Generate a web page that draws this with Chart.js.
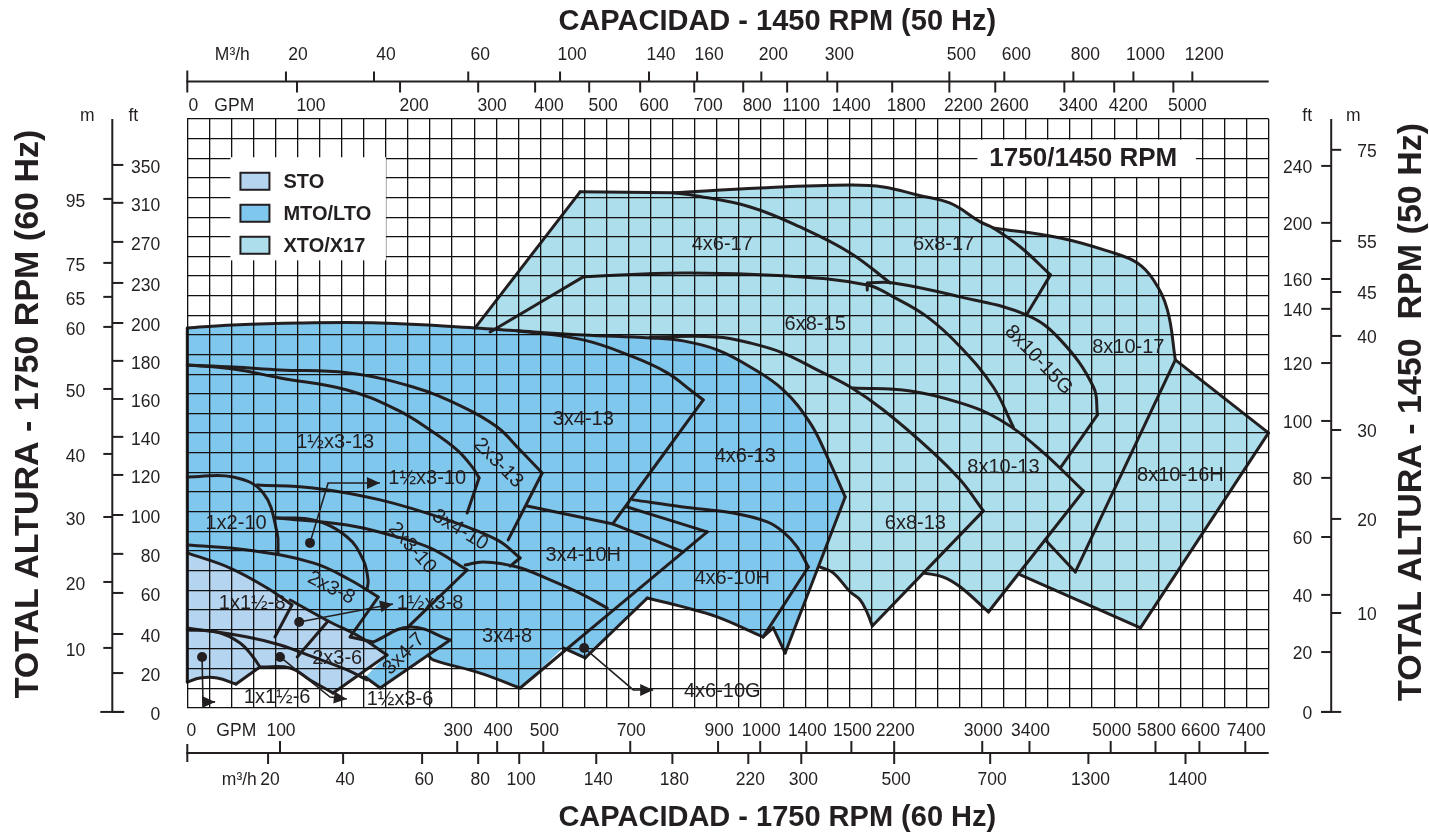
<!DOCTYPE html>
<html>
<head>
<meta charset="utf-8">
<title>Cobertura de bombas 1750/1450 RPM</title>
<script src="https://cdn.jsdelivr.net/npm/chart.js@4.4.1/dist/chart.umd.min.js"></script>
<style>
  html, body { margin: 0; padding: 0; background: #fff; }
  #wrap { position: relative; width: 1429px; height: 836px; }
</style>
</head>
<body>
<div id="wrap"><canvas id="coverageChart"></canvas></div>
<script>
// the plot is a 49 x 30 grid; all shapes below are in grid units
const gridCols = 49, gridRows = 30;

const familyNames  = ['STO', 'MTO/LTO', 'XTO/X17'];
const familyColors = ['#b4d4f0', '#80c7ee', '#acdeeb'];

// filled envelopes, one per family
const xtoArea = [[13.04,19.36],[17.80,26.29],[22.02,26.24],[25.96,26.49],[30.04,26.64],[31.54,26.54],[33.08,26.13],[34.57,25.71],[35.93,24.76],[36.52,24.45],
  [39.56,23.94],[41.83,23.23],[43.05,22.67],[43.78,21.80],[44.41,20.28],[44.77,17.73],[48.99,14.01],[43.19,4.08],[37.75,6.78],[36.30,4.89],
  [35.03,6.16],[34.26,6.67],[33.35,6.88],[31.04,4.18],[30.81,4.84],[30.49,5.50],[30.04,5.91],[29.27,6.88],[28.68,7.18],[27.77,9.58],[23.23,14.67],[14.18,18.85]];
const mtoArea = [[0,19.36],[2.08,19.51],[5.11,19.61],[8.74,19.61],[13.04,19.36],[14.95,19.21],[17.94,19.00],[20.97,18.85],[22.47,18.70],[24.01,18.24],
  [25.51,17.37],[27.00,16.20],[28.22,14.52],[29.00,12.79],[29.81,10.75],[27.09,2.80],[26.55,4.08],[26.09,3.62],[24.01,4.64],[22.47,5.15],
  [20.84,5.60],[18.03,2.55],[17.03,3.06],[15.08,1.02],[13.27,1.78],[11.14,2.45],[10.91,2.70],[8.74,1.02],[8.06,1.58],[9.05,2.70],[6.47,3.46],[0,5.50]];
const stoArea = [[0,7.90],[1.94,7.13],[3.62,6.11],[4.66,5.50],[6.38,4.43],[7.83,3.62],[9.05,2.70],[6.61,0.76],[5.56,1.43],[4.66,2.04],
  [3.38,2.09],[2.21,1.22],[1.35,1.53],[0.58,1.53],[0,1.32]];

// pump curves (XTO/X17)
const eXtoTop    = [[13.04,19.36],[17.80,26.29],[22.02,26.24],[25.96,26.49],[30.04,26.64],[31.54,26.54],[33.08,26.13],[34.57,25.71],[35.93,24.76],[36.52,24.45],[37.75,23.48],[39.11,22.06],[38.02,20.02]];
const e8x10_17   = [[36.52,24.45],[39.56,23.94],[41.83,23.23],[43.05,22.67],[43.78,21.80],[44.41,20.28],[44.77,17.73],[48.99,14.01],[43.19,4.08],[37.75,6.78]];
const e8x10_17b  = [[44.77,17.73],[40.24,6.93],[38.88,8.56]];
const e4x6_17    = [[22.02,26.24],[23.10,26.08],[25.51,25.52],[27.77,24.50],[30.04,23.18],[31.85,21.65]];
const e6x8_15    = [[13.72,19.15],[17.94,21.96],[22.47,22.16],[27.00,22.01],[30.81,21.55],[31.99,20.94],[33.53,19.92],[35.03,18.39],[36.52,16.35],[37.43,14.31]];
const e8x10_15G  = [[30.81,21.29],[30.81,21.65],[31.99,21.65],[35.03,20.94],[38.02,20.02],[39.56,18.75],[41.06,16.35],[41.24,14.93],[39.56,12.23]];
const e8x10_13   = [[30.17,16.30],[32.76,16.15],[35.03,15.54],[36.84,14.67],[38.66,13.14],[40.61,11.05],[36.30,4.89],[35.03,6.16],[34.26,6.67],[33.35,6.88]];
const e6x8_13    = [[20.97,18.90],[24.01,18.90],[25.51,18.59],[27.00,18.08],[28.54,17.22],[30.04,16.35],[31.54,15.18],[33.67,13.14],[35.03,11.61],[36.07,10.04],
  [31.04,4.18],[30.81,4.84],[30.49,5.50],[30.04,5.91],[29.27,6.88],[28.68,7.18]];

// pump curves (MTO/LTO)
const eMtoOuter  = [[0,1.32],[0,19.36],[2.08,19.51],[5.11,19.61],[8.74,19.61],[13.04,19.36],[14.95,19.21],[17.94,19.00],[20.97,18.85],[22.47,18.70],[24.01,18.24],
  [25.51,17.37],[27.00,16.20],[28.22,14.52],[29.00,12.79],[29.81,10.75],[27.09,2.80],[26.55,4.08],[26.09,3.62]];
const e2x3_13    = [[0,17.47],[2.08,17.37],[4.21,17.22],[7.24,17.07],[10.23,16.35],[12.50,15.33],[14.04,14.31],[15.08,13.14],[16.08,11.97],[14.54,8.56]];
const e15x3_13   = [[0,17.47],[2.08,17.27],[4.21,16.81],[7.24,16.20],[9.51,15.18],[11.00,14.16],[12.23,13.14],[12.91,12.28],[13.22,11.72],[12.68,9.93]];
const e3x4_13    = [[14.95,19.21],[17.94,18.75],[20.21,17.88],[21.75,17.07],[22.79,16.20],[23.38,15.69],[19.30,9.42]];
const e4x6_10H   = [[20.21,10.60],[22.47,10.24],[24.73,9.93],[26.28,9.48],[27.00,8.97],[27.64,8.20],[28.14,7.18],[26.09,3.62],[24.01,4.64],[22.47,5.15],[20.84,5.60],[18.03,2.55],[17.03,3.06]];
const e4x6_10G   = [[19.93,10.24],[23.56,8.97],[15.08,1.02]];
const e3x4_10H   = [[15.40,10.29],[19.30,9.37],[22.47,7.95]];
const e3x4_8     = [[12.59,7.28],[13.41,7.44],[14.95,7.18],[16.44,6.52],[17.94,5.76],[19.03,5.09]];
const e3x4_8low  = [[15.08,1.02],[13.27,1.78],[11.14,2.45],[10.91,2.70]];
const e1x2_10    = [[0,11.77],[2.08,11.77],[3.44,10.95],[4.07,8.92],[4.11,7.90]];
const e3x4_10    = [[3.16,11.36],[5.70,11.21],[8.74,10.60],[11.78,9.58],[14.04,8.56],[15.08,7.64],[14.63,7.23]];
const e15x3_10   = [[4.07,9.68],[5.70,9.58],[7.24,8.71],[7.97,7.54],[8.19,6.52],[8.14,6.01]];
const e2x3_10    = [[4.07,9.68],[7.24,9.32],[9.19,8.81],[11.00,8.15],[12.68,7.03],[9.96,4.08]];
const e2x3_8     = [[0,8.30],[2.72,8.05],[5.70,7.39],[7.38,6.52],[8.65,5.65],[7.38,3.62],[8.42,3.36]];
const e3x4_7     = [[8.42,3.36],[10.10,4.13],[11.91,3.46],[8.74,1.02],[8.06,1.58]];

// pump curves (STO)
const e1x15_8    = [[0,7.90],[1.94,7.13],[3.62,6.11],[4.74,5.25],[3.97,3.62]];
const e2x3_6     = [[4.66,5.50],[6.38,4.43],[7.83,3.62],[9.05,2.70],[6.61,0.76],[5.56,1.43],[4.66,2.04],[3.29,2.09]];
const e1x15_6    = [[0,3.97],[1.35,3.87],[2.39,3.31],[2.98,2.60],[3.29,2.09],[2.21,1.22],[1.35,1.53],[0.58,1.53],[0,1.32]];
const e15x3_6    = [[0,4.08],[2.72,3.62],[4.21,3.21],[5.70,2.60],[7.24,1.94],[8.14,1.43]];
const e15x3_8    = [[6.38,4.43],[4.98,2.60]];

// each curve with the indexes of its sharp corners
const outlines = [
  [eXtoTop, [1, 2, 11]], [e8x10_17, [6, 7, 8]], [e8x10_17b, [1]], [e4x6_17, []],
  [e6x8_15, [1]], [e8x10_15G, [1, 7]], [e8x10_13, [5, 6]], [e6x8_13, [9, 10]],
  [eMtoOuter, [1, 15, 16, 17]], [e2x3_13, [8]], [e15x3_13, [8]], [e3x4_13, [5]],
  [e4x6_10H, [6, 7, 10, 11]], [e4x6_10G, [1]], [e3x4_10H, [1]], [e3x4_8, []], [e3x4_8low, []],
  [e1x2_10, []], [e3x4_10, [5]], [e15x3_10, []], [e2x3_10, [4]], [e2x3_8, [4, 5]], [e3x4_7, [2, 3]],
  [e1x15_8, [3]], [e2x3_6, [3, 4]], [e1x15_6, [4, 5]], [e15x3_6, []], [e15x3_8, []]
];

// pump names: text, x, y, angle
const regionLabels = [
  ['4x6-17', 24.24, 23.59, 0], ['6x8-17', 34.27, 23.59, 0], ['6x8-15', 28.45, 19.51, 0],
  ['8x10-15G', 38.57, 17.73, 46], ['8x10-17', 42.64, 18.34, 0], ['3x4-13', 17.94, 14.67, 0],
  ['4x6-13', 25.28, 12.79, 0], ['8x10-13', 36.98, 12.23, 0], ['8x10-16H', 45.0, 11.82, 0],
  ['6x8-13', 32.99, 9.42, 0], ['1½x3-13', 6.70, 13.50, 0], ['2x3-13', 14.09, 12.48, 45],
  ['1½x3-10', 10.87, 11.67, 0], ['1x2-10', 2.21, 9.42, 0], ['3x4-10', 12.36, 9.07, 31],
  ['2x3-10', 10.19, 8.15, 48], ['3x4-10H', 17.94, 7.79, 0], ['4x6-10H', 24.69, 6.62, 0],
  ['2x3-8', 6.52, 6.11, 27], ['1x1½-8', 2.94, 5.30, 0], ['1½x3-8', 11.0, 5.30, 0],
  ['3x4-8', 14.49, 3.62, 0], ['2x3-6', 6.79, 2.50, 0], ['3x4-7', 9.82, 2.75, -45],
  ['1x1½-6', 4.07, 0.56, 0], ['1½x3-6', 9.64, 0.41, 0], ['4x6-10G', 24.24, 0.82, 0]
];

// leader lines: dot first, arrow tip last
const pointers = [
  [[5.56,8.41],[6.38,11.46],[8.73,11.46]],
  [[5.07,4.38],[9.32,5.30]],
  [[0.67,2.60],[0.71,0.31],[1.26,0.31]],
  [[4.20,2.60],[6.47,0.56],[7.23,0.46]],
  [[17.98,3.06],[20.21,0.92],[21.11,0.92]]
];

// axis ticks (position in grid units, text)
const topM3hAt   = [4.47, 8.46, 12.73, 16.89, 20.92, 23.10, 26.01, 29.00, 34.53, 37.02, 40.15, 42.87, 45.54];
const topM3hText = ['20','40','60','100','140','160','200','300','500','600','800','1000','1200'];
const topGpmAt   = [0, 4.97, 9.64, 13.18, 15.76, 18.21, 20.52, 22.97, 25.19, 27.18, 29.45, 31.94, 34.53, 36.61, 39.74, 42.00, 44.68];
const topGpmText = ['0','100','200','300','400','500','600','700','800','1100','1400','1800','2200','2600','3400','4200','5000'];
const botGpmAt   = [0, 4.20, 12.23, 14.04, 16.13, 20.07, 24.05, 25.96, 28.05, 30.09, 32.03, 36.02, 38.16, 41.84, 43.87, 45.86, 47.94];
const botGpmText = ['0','100','300','400','500','700','900','1000','1400','1500','2200','3000','3400','5000','5800','6600','7400'];
const botM3hAt   = [3.66, 7.06, 10.64, 13.18, 15.04, 18.53, 21.98, 25.42, 27.82, 32.03, 36.38, 40.83, 45.23];
const botM3hText = ['20','40','60','80','100','140','180','220','300','500','700','1300','1400'];
const leftMAt    = [3.06, 6.42, 9.73, 12.94, 16.25, 19.41, 20.94, 22.67, 25.93];
const leftMText  = ['10','20','30','40','50','60','65','75','95'];
const leftFtAt   = [-0.2, 1.78, 3.77, 5.86, 7.85, 9.83, 11.87, 13.81, 15.74, 17.68, 19.61, 21.65, 23.74, 25.73, 27.66];
const leftFtText = ['0','20','40','60','80','100','120','140','160','180','200','230','270','310','350'];
const rightFtAt   = [-0.2, 2.85, 5.76, 8.71, 11.72, 14.62, 17.57, 20.33, 21.85, 24.71, 27.61];
const rightFtText = ['0','20','40','60','80','100','120','140','160','200','240'];
const rightMAt    = [4.84, 9.63, 14.16, 18.95, 21.19, 23.79, 28.43];
const rightMText  = ['10','20','30','40','45','55','75'];

const FONT = '"Liberation Sans", Arial, Helvetica, sans-serif';
const ink = '#231f20';

const pts = arr => arr.map(p => ({x: p[0], y: p[1]}));

// split a curve at its corners so the smooth parts can be drawn with tension
function pieces(arr, corners) {
    var out = [], start = 0;
    corners.concat([arr.length - 1]).forEach(function (c) {
        if (c > start) out.push(arr.slice(start, c + 1));
        start = c;
    });
    return out;
}

// chart.js paints the first dataset on top, so outlines go first, then STO, MTO, XTO
var datasets = [];
outlines.forEach(function (o) {
    pieces(o[0], o[1]).forEach(function (p) {
        datasets.push({data: pts(p), fill: false, borderColor: ink, borderWidth: 3, pointRadius: 0,
            clip: false, tension: 0.4, borderJoinStyle: 'round', borderCapStyle: 'round'});
    });
});
[[stoArea, familyColors[0]], [mtoArea, familyColors[1]], [xtoArea, familyColors[2]]].forEach(function (a) {
    datasets.push({data: pts(a[0]), fill: 'shape', backgroundColor: a[1], borderWidth: 0,
        pointRadius: 0, clip: false, tension: 0});
});

function line(ctx, x1, y1, x2, y2) {
    ctx.beginPath(); ctx.moveTo(x1, y1); ctx.lineTo(x2, y2); ctx.stroke();
}
function text(ctx, s, x, y, align) {
    ctx.textAlign = align || 'center';
    ctx.fillText(s, x, y);
}
function arrowHead(ctx, x0, y0, x1, y1) {
    var ang = Math.atan2(y1 - y0, x1 - x0), len = 13, hw = 6;
    var bx = x1 - len * Math.cos(ang), by = y1 - len * Math.sin(ang);
    ctx.beginPath();
    ctx.moveTo(x1, y1);
    ctx.lineTo(bx + hw * Math.sin(ang), by - hw * Math.cos(ang));
    ctx.lineTo(bx - hw * Math.sin(ang), by + hw * Math.cos(ang));
    ctx.closePath(); ctx.fill();
}

const overlay = {
    id: 'overlay',
    afterDraw(chart) {
        const ctx = chart.ctx, a = chart.chartArea;
        const X = v => chart.scales.x.getPixelForValue(v);
        const Y = v => chart.scales.y.getPixelForValue(v);
        ctx.save();
        ctx.fillStyle = ink; ctx.strokeStyle = ink;
        ctx.textBaseline = 'middle';

        // names of the pumps
        ctx.font = '20px ' + FONT;
        regionLabels.forEach(function (l) {
            ctx.save();
            ctx.translate(X(l[1]), Y(l[2]));
            ctx.rotate(l[3] * Math.PI / 180);
            text(ctx, l[0], 0, 0);
            ctx.restore();
        });

        // leader lines with dots and arrows
        ctx.lineWidth = 1.6;
        pointers.forEach(function (p) {
            ctx.beginPath();
            p.forEach(function (q, i) { i ? ctx.lineTo(X(q[0]), Y(q[1])) : ctx.moveTo(X(q[0]), Y(q[1])); });
            ctx.stroke();
            ctx.beginPath(); ctx.arc(X(p[0][0]), Y(p[0][1]), 5, 0, Math.PI * 2); ctx.fill();
            var n = p.length;
            arrowHead(ctx, X(p[n-2][0]), Y(p[n-2][1]), X(p[n-1][0]), Y(p[n-1][1]));
        });

        // legend box
        ctx.fillStyle = '#fff';
        ctx.fillRect(X(2) - 1, Y(28) - 1, X(9) - X(2) + 1, Y(22.8) - Y(28) + 1);
        var bx = X(2), bt = Y(28);
        familyNames.forEach(function (name, i) {
            var cy = bt + 23 + i * 32;
            ctx.fillStyle = familyColors[i];
            ctx.fillRect(bx + 9, cy - 8.5, 29, 17);
            ctx.lineWidth = 2; ctx.strokeStyle = ink;
            ctx.strokeRect(bx + 9, cy - 8.5, 29, 17);
            ctx.fillStyle = ink;
            ctx.font = 'bold 20px ' + FONT;
            text(ctx, name, bx + 52, cy + 1, 'left');
        });

        // rpm box
        ctx.fillStyle = '#fff';
        ctx.fillRect(X(35.8), Y(28.95), X(45.7) - X(35.8), Y(27.05) - Y(28.95));
        ctx.fillStyle = ink;
        ctx.font = 'bold 26px ' + FONT;
        text(ctx, '1750/1450 RPM', X(40.6), Y(28) + 1);

        // outer axes
        ctx.lineWidth = 2; ctx.strokeStyle = ink; ctx.fillStyle = ink;
        ctx.font = '17.5px ' + FONT;
        var ty = a.top - 37.5;
        line(ctx, X(0) - 1, ty, a.right, ty);
        line(ctx, X(0), ty - 11, X(0), ty + 11);
        topM3hAt.forEach(function (v, i) {
            line(ctx, X(v), ty, X(v), ty - 10);
            text(ctx, topM3hText[i], X(v) + 12, ty - 26);
        });
        topGpmAt.forEach(function (v, i) {
            if (v > 0) line(ctx, X(v), ty, X(v), ty + 11);
            text(ctx, topGpmText[i], X(v) + (v > 0 ? 14 : 6), ty + 25);
        });
        text(ctx, 'M³/h', X(0) + 45, ty - 26);
        text(ctx, 'GPM', X(0) + 47, ty + 25);

        var by = a.bottom + 45;
        line(ctx, X(0) - 1, by, a.right, by);
        line(ctx, X(0), by - 9, X(0), by + 9);
        botGpmAt.forEach(function (v, i) {
            if (v > 0) line(ctx, X(v), by, X(v), by - 12);
            text(ctx, botGpmText[i], X(v) + (v > 0 ? 1 : 4), by - 22);
        });
        botM3hAt.forEach(function (v, i) {
            line(ctx, X(v), by, X(v), by + 11);
            text(ctx, botM3hText[i], X(v) + 2, by + 27);
        });
        text(ctx, 'GPM', X(0) + 49, by - 22);
        text(ctx, 'm³/h', X(0) + 52, by + 27);

        var lx = a.left - 75;
        line(ctx, lx, Y(30), lx, Y(-0.2));
        line(ctx, lx - 12, Y(-0.2), lx + 12, Y(-0.2));
        leftMAt.forEach(function (v, i) {
            line(ctx, lx - 9, Y(v), lx, Y(v));
            text(ctx, leftMText[i], lx - 27, Y(v) + 3, 'right');
        });
        leftFtAt.forEach(function (v, i) {
            line(ctx, lx, Y(v), lx + 11, Y(v));
            text(ctx, leftFtText[i], lx + 48, Y(v) + 3, 'right');
        });
        text(ctx, 'm', lx - 25, Y(30) - 3);
        text(ctx, 'ft', lx + 21, Y(30) - 3);

        var rx = a.right + 62.5;
        line(ctx, rx, Y(30), rx, Y(-0.2));
        line(ctx, rx - 10, Y(-0.2), rx + 10, Y(-0.2));
        rightFtAt.forEach(function (v, i) {
            line(ctx, rx - 10, Y(v), rx, Y(v));
            text(ctx, rightFtText[i], rx - 19, Y(v) + 2, 'right');
        });
        rightMAt.forEach(function (v, i) {
            line(ctx, rx, Y(v), rx + 10, Y(v));
            text(ctx, rightMText[i], rx + 26, Y(v) + 2, 'left');
        });
        text(ctx, 'ft', rx - 24, Y(30) - 3);
        text(ctx, 'm', rx + 22, Y(30) - 3);

        // titles
        ctx.font = 'bold 29px ' + FONT;
        text(ctx, 'CAPACIDAD - 1450 RPM (50 Hz)', a.left + 590, 22);
        text(ctx, 'CAPACIDAD - 1750 RPM (60 Hz)', a.left + 590, 818);
        ctx.font = 'bold 34px ' + FONT;
        ctx.save(); ctx.translate(29, 414); ctx.rotate(-Math.PI / 2);
        text(ctx, 'TOTAL ALTURA - 1750 RPM (60 Hz)', 0, 0);
        ctx.restore();
        ctx.save(); ctx.translate(1412, 412); ctx.rotate(-Math.PI / 2);
        text(ctx, 'TOTAL ALTURA - 1450  RPM (50 Hz)', 0, 0);
        ctx.restore();
        ctx.restore();
    }
};

var gridOpts = {color: '#111', lineWidth: 1.3, drawTicks: false, z: 1};
new Chart(document.getElementById('coverageChart'), {
    type: 'line',
    data: {datasets: datasets},
    options: {
        responsive: true,
        maintainAspectRatio: false,
        animation: false,
        devicePixelRatio: 1,
        events: [],
        layout: {padding: {left: 187.3, right: 160.3, top: 119, bottom: 128}},
        scales: {
            x: {type: 'linear', min: 0, max: gridCols, ticks: {stepSize: 1, display: false},
                grid: gridOpts, border: {display: false}},
            y: {type: 'linear', min: 0, max: gridRows, ticks: {stepSize: 1, display: false},
                grid: gridOpts, border: {display: false}}
        },
        plugins: {legend: {display: false}, tooltip: {enabled: false}}
    },
    plugins: [overlay]
});
</script>
</body>
</html>
